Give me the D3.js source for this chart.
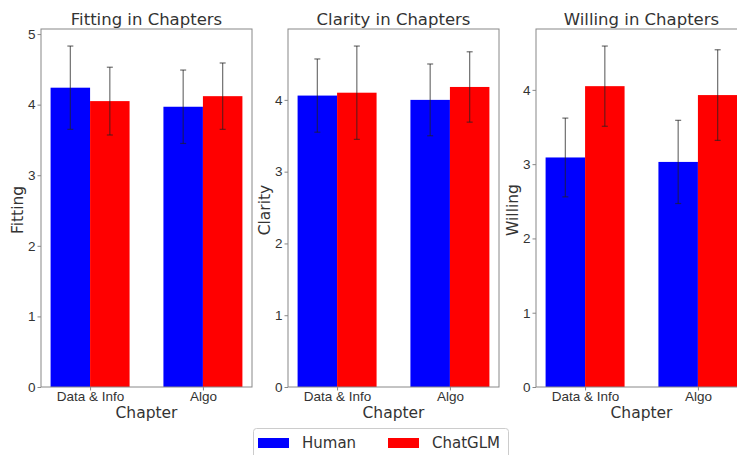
<!DOCTYPE html>
<html>
<head>
<meta charset="utf-8">
<script src="https://cdn.jsdelivr.net/npm/d3@7"></script>
<style>
  body { margin: 0; background: #fff; }
  svg { display: block; font-family: "DejaVu Sans", sans-serif; }
</style>
</head>
<body>
<div class="chart"></div>
<script>
// chart data
var chapters = ["Data & Info", "Algo"];
var seriesNames = ["Human", "ChatGLM"];
var seriesColors = ["#0000ff", "#ff0000"];

var fittingHuman = [4.24, 3.97];
var fittingHumanSd = [0.59, 0.52];
var fittingGLM = [4.05, 4.12];
var fittingGLMSd = [0.48, 0.47];

var clarityHuman = [4.06, 4.00];
var clarityHumanSd = [0.51, 0.50];
var clarityGLM = [4.10, 4.18];
var clarityGLMSd = [0.65, 0.49];

var willingHuman = [3.09, 3.03];
var willingHumanSd = [0.53, 0.56];
var willingGLM = [4.05, 3.93];
var willingGLMSd = [0.54, 0.61];

var panels = [
    { title: "Fitting in Chapters", ylabel: "Fitting", means: [fittingHuman, fittingGLM], sds: [fittingHumanSd, fittingGLMSd], left: 41 },
    { title: "Clarity in Chapters", ylabel: "Clarity", means: [clarityHuman, clarityGLM], sds: [clarityHumanSd, clarityGLMSd], left: 288 },
    { title: "Willing in Chapters", ylabel: "Willing", means: [willingHuman, willingGLM], sds: [willingHumanSd, willingGLMSd], left: 536 }
];

var width = 737, height = 455;
var panelW = 211;
var plotTop = 29, plotBottom = 387;
var barW = 0.35;
var textColor = "#333";
var spineColor = "#888";

var svg = d3.select('.chart')
    .append('svg')
    .attr('width', width)
    .attr('height', height);

panels.forEach(function(p) {
    // y limit like matplotlib: data max incl. error bars + 5%
    var maxTop = 0;
    p.means.forEach(function(m, s) {
        m.forEach(function(v, i) { maxTop = Math.max(maxTop, v + p.sds[s][i]); });
    });
    var ymax = maxTop * 1.05;

    var x = d3.scaleLinear()
        .domain([-barW - 0.085, 1 + barW + 0.085])
        .range([p.left, p.left + panelW]);
    var y = d3.scaleLinear()
        .domain([0, ymax])
        .range([plotBottom, plotTop]);

    var g = svg.append('g');

    // bars
    p.means.forEach(function(m, s) {
        var off = s === 0 ? -barW / 2 : barW / 2;
        g.selectAll('rect.s' + s)
            .data(m)
            .enter()
            .append('rect')
            .attr('class', 's' + s)
            .attr('x', function(d, i) { return x(i + off - barW / 2); })
            .attr('y', function(d) { return y(d); })
            .attr('width', x(barW) - x(0))
            .attr('height', function(d) { return y(0) - y(d); })
            .style('fill', seriesColors[s]);
    });

    // error bars
    p.means.forEach(function(m, s) {
        var off = s === 0 ? -barW / 2 : barW / 2;
        m.forEach(function(v, i) {
            var cx = x(i + off);
            var sd = p.sds[s][i];
            var eg = g.append('g')
                .style('stroke', '#222')
                .style('stroke-opacity', 0.65)
                .style('stroke-width', 1.2);
            eg.append('line')
                .attr('x1', cx).attr('x2', cx)
                .attr('y1', y(v - sd)).attr('y2', y(v + sd));
            [v - sd, v + sd].forEach(function(e) {
                eg.append('line')
                    .attr('x1', cx - 3).attr('x2', cx + 3)
                    .attr('y1', y(e)).attr('y2', y(e));
            });
        });
    });

    // frame
    g.append('rect')
        .attr('x', p.left)
        .attr('y', plotTop)
        .attr('width', panelW)
        .attr('height', plotBottom - plotTop)
        .style('fill', 'none')
        .style('stroke', spineColor)
        .style('stroke-width', 1);

    // y axis
    var yAxis = d3.axisLeft(y)
        .tickValues(d3.range(0, Math.floor(ymax) + 1))
        .tickFormat(d3.format('d'))
        .tickSize(3.5)
        .tickPadding(2);
    var ya = g.append('g')
        .attr('transform', 'translate(' + p.left + ',0)')
        .call(yAxis);
    ya.select('.domain').remove();
    ya.selectAll('line').style('stroke', spineColor);
    ya.selectAll('text').style('font-size', '13.5px').style('fill', textColor);

    // x axis
    var xAxis = d3.axisBottom(x)
        .tickValues([0, 1])
        .tickFormat(function(d) { return chapters[d]; })
        .tickSize(3.5)
        .tickPadding(1);
    var xa = g.append('g')
        .attr('transform', 'translate(0,' + plotBottom + ')')
        .call(xAxis);
    xa.select('.domain').remove();
    xa.selectAll('line').style('stroke', spineColor);
    xa.selectAll('text').style('font-size', '13.5px').style('fill', textColor);

    // title
    g.append('text')
        .attr('x', p.left + panelW / 2)
        .attr('y', 25)
        .style('text-anchor', 'middle')
        .style('font-size', '16.5px')
        .style('fill', textColor)
        .text(p.title);

    // x label
    g.append('text')
        .attr('x', p.left + panelW / 2)
        .attr('y', 418)
        .style('text-anchor', 'middle')
        .style('font-size', '15.5px')
        .style('fill', textColor)
        .text("Chapter");

    // y label
    g.append('text')
        .attr('transform', 'translate(' + (p.left - 18) + ',' + ((plotTop + plotBottom) / 2 + 2) + ') rotate(-90)')
        .style('text-anchor', 'middle')
        .style('font-size', '15.5px')
        .style('fill', textColor)
        .text(p.ylabel);
});

// legend
var legend = svg.append('g');
legend.append('rect')
    .attr('x', 253.5)
    .attr('y', 428.5)
    .attr('width', 255)
    .attr('height', 30)
    .attr('rx', 3)
    .style('fill', '#fff')
    .style('stroke', '#ccc');

var legendX = [258, 388];
seriesNames.forEach(function(name, i) {
    legend.append('rect')
        .attr('x', legendX[i])
        .attr('y', 438)
        .attr('width', 31)
        .attr('height', 10)
        .style('fill', seriesColors[i]);
    legend.append('text')
        .attr('x', legendX[i] + 44)
        .attr('y', 448)
        .style('font-size', '15px')
        .style('fill', textColor)
        .text(name);
});
</script>
</body>
</html>
